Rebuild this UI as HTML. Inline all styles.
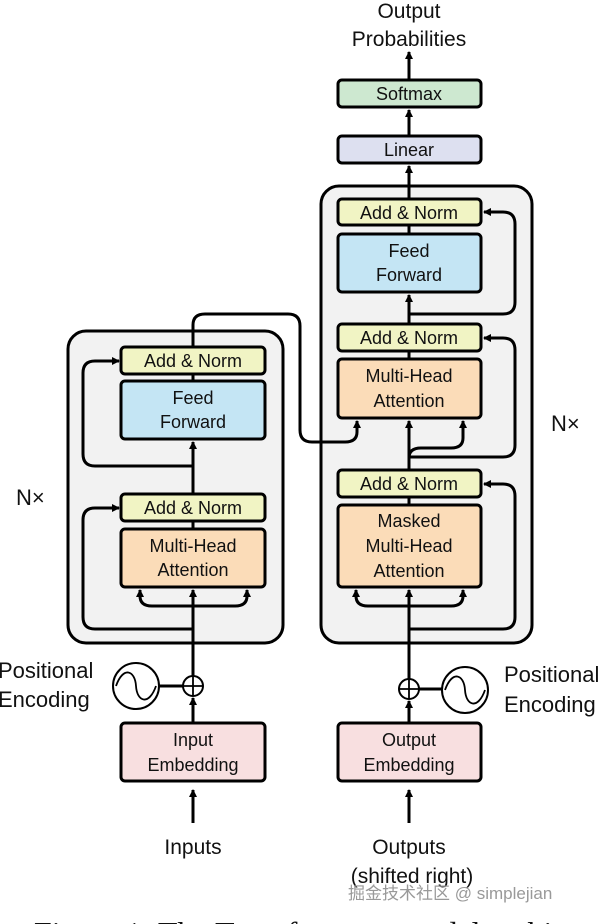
<!DOCTYPE html>
<html><head><meta charset="utf-8"><style>
html,body{margin:0;padding:0;background:#fff;width:604px;height:924px;overflow:hidden}
svg{display:block}
text{font-family:"Liberation Sans",sans-serif;fill:#111}
</style></head><body>
<svg width="604" height="924" viewBox="0 0 604 924" xmlns="http://www.w3.org/2000/svg">
<defs>
<marker id="a" markerWidth="8" markerHeight="8" refX="7" refY="4" orient="auto" markerUnits="userSpaceOnUse">
<path d="M0,0 L8,4 L0,8 Z" fill="#000"/></marker>
</defs>
<g stroke="#000" stroke-width="3" fill="none">
<rect x="68" y="331" width="215" height="312" rx="18" fill="#f2f2f2"/>
<rect x="321" y="186" width="211" height="457" rx="18" fill="#f2f2f2"/>
</g>
<g stroke="#000" stroke-width="3" fill="none" stroke-linejoin="round">
<path d="M193 823 V790" marker-end="url(#a)"/>
<path d="M193 723 V698" marker-end="url(#a)"/>
<path d="M193 676 V596"/>
<path d="M193 610 V590" marker-end="url(#a)"/>
<path d="M193 606 H152 Q140 606 140 596 V590" marker-end="url(#a)"/>
<path d="M193 606 H235 Q247 606 247 596 V590" marker-end="url(#a)"/>
<path d="M193 629 H95 Q83 629 83 617 V520 Q83 508 95 508 H119" marker-end="url(#a)"/>
<path d="M193 529 V521"/>
<path d="M193 494 V442" marker-end="url(#a)"/>
<path d="M193 466 H95 Q83 466 83 454 V373 Q83 361 95 361 H119" marker-end="url(#a)"/>
<path d="M193 381 V374"/>
<path d="M193 347 V325 Q193 314 205 314 H288 Q300 314 300 326 V430 Q300 442 312 442 H345 Q357 442 357 432 V421" marker-end="url(#a)"/>
<path d="M409 823 V790" marker-end="url(#a)"/>
<path d="M409 723 V701" marker-end="url(#a)"/>
<path d="M409 679 V596"/>
<path d="M409 610 V590" marker-end="url(#a)"/>
<path d="M409 606 H368 Q356 606 356 596 V590" marker-end="url(#a)"/>
<path d="M409 606 H451 Q463 606 463 596 V590" marker-end="url(#a)"/>
<path d="M409 629 H503 Q515 629 515 617 V496 Q515 484 503 484 H484" marker-end="url(#a)"/>
<path d="M409 505 V497"/>
<path d="M409 470 V421" marker-end="url(#a)"/>
<path d="M409 458 Q409 448 421 448 H451 Q463 448 463 438 V421" marker-end="url(#a)"/>
<path d="M409 457 H503 Q515 457 515 445 V350 Q515 338 503 338 H484" marker-end="url(#a)"/>
<path d="M409 359 V351"/>
<path d="M409 324 V295" marker-end="url(#a)"/>
<path d="M409 314 H503 Q515 314 515 302 V224 Q515 212 503 212 H484" marker-end="url(#a)"/>
<path d="M409 234 V225"/>
<path d="M409 199 V166" marker-end="url(#a)"/>
<path d="M409 136 V110" marker-end="url(#a)"/>
<path d="M409 80 V52" marker-end="url(#a)"/>
<path d="M159 686 H183"/>
<path d="M419 689 H442"/>
</g>
<g stroke="#000" stroke-width="3">
<rect x="121" y="347" width="144" height="27" rx="4" fill="#f1f4c4"/>
<rect x="121" y="381" width="144" height="58" rx="4" fill="#c4e5f4"/>
<rect x="121" y="494" width="144" height="27" rx="4" fill="#f1f4c4"/>
<rect x="121" y="529" width="144" height="58" rx="4" fill="#fbdcb8"/>
<rect x="121" y="723" width="144" height="58" rx="4" fill="#f8dfe0"/>
<rect x="338" y="199" width="143" height="26" rx="4" fill="#f1f4c4"/>
<rect x="338" y="234" width="143" height="58" rx="4" fill="#c4e5f4"/>
<rect x="338" y="324" width="143" height="27" rx="4" fill="#f1f4c4"/>
<rect x="338" y="359" width="143" height="59" rx="4" fill="#fbdcb8"/>
<rect x="338" y="470" width="143" height="27" rx="4" fill="#f1f4c4"/>
<rect x="338" y="505" width="143" height="82" rx="4" fill="#fbdcb8"/>
<rect x="338" y="723" width="143" height="58" rx="4" fill="#f8dfe0"/>
<rect x="338" y="136" width="143" height="27" rx="4" fill="#dde0f0"/>
<rect x="338" y="80" width="143" height="27" rx="4" fill="#cde8d0"/>
</g>
<g stroke="#000" stroke-width="2" fill="#fff">
<circle cx="136" cy="686" r="23"/>
<circle cx="193" cy="686" r="10"/>
<circle cx="409" cy="689" r="10"/>
<circle cx="465" cy="690" r="23"/>
</g>
<g stroke="#000" stroke-width="1.8" fill="none">
<path d="M183 686 H203 M193 676 V696 M399 689 H419 M409 679 V699"/>
<path d="M116 686 C123 666 135 670 136 686 C137 702 149 706 156 686"/>
<path d="M445 690 C452 670 464 674 465 690 C466 706 478 710 485 690"/>
</g>
<g font-size="18" text-anchor="middle">
<text x="193" y="367">Add &amp; Norm</text>
<text x="193" y="404">Feed</text><text x="193" y="428">Forward</text>
<text x="193" y="514">Add &amp; Norm</text>
<text x="193" y="552">Multi-Head</text><text x="193" y="576">Attention</text>
<text x="193" y="746">Input</text><text x="193" y="771">Embedding</text>
<text x="409" y="219">Add &amp; Norm</text>
<text x="409" y="257">Feed</text><text x="409" y="281">Forward</text>
<text x="409" y="344">Add &amp; Norm</text>
<text x="409" y="382">Multi-Head</text><text x="409" y="407">Attention</text>
<text x="409" y="490">Add &amp; Norm</text>
<text x="409" y="527">Masked</text><text x="409" y="552">Multi-Head</text><text x="409" y="577">Attention</text>
<text x="409" y="746">Output</text><text x="409" y="771">Embedding</text>
<text x="409" y="156">Linear</text>
<text x="409" y="100">Softmax</text>
</g>
<g font-size="21" text-anchor="middle">
<text x="409" y="18">Output</text>
<text x="409" y="46">Probabilities</text>
<text x="193" y="854">Inputs</text>
<text x="409" y="854">Outputs</text>
<text x="412" y="883">(shifted right)</text>
</g>
<g font-size="22">
<text x="-2" y="678">Positional</text><text x="-2" y="707">Encoding</text>
<text x="504" y="682">Positional</text><text x="504" y="712">Encoding</text>
<text x="16" y="505">N×</text>
<text x="551" y="431">N×</text>
</g>
<text x="348" y="899" font-size="17" style="fill:#999;font-family:'Liberation Sans','Noto Sans CJK SC',sans-serif">掘金技术社区 @ simplejian</text>
<text x="34" y="944" font-size="32" style="font-family:'Liberation Serif',serif">Figure 1: The Transformer - model architecture.</text>
</svg>
</body></html>
